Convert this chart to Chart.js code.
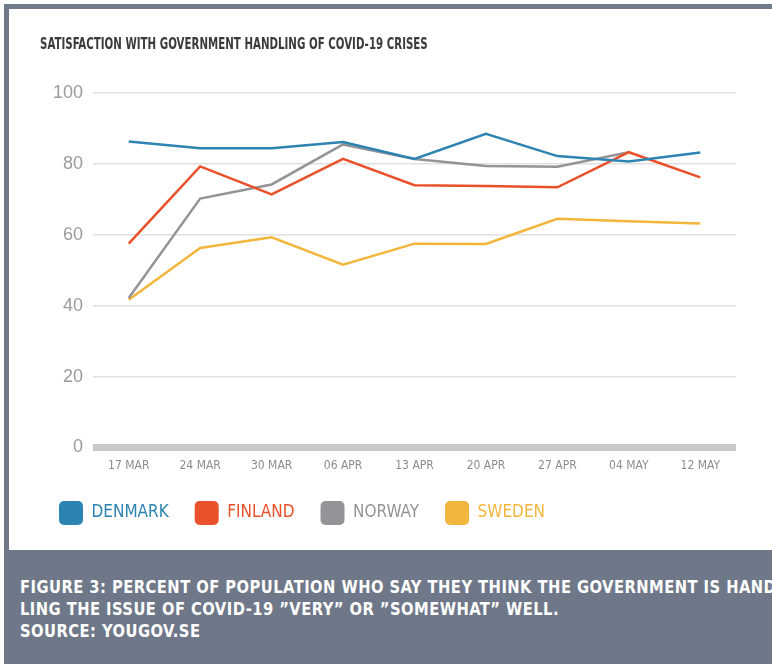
<!DOCTYPE html>
<html>
<head>
<meta charset="utf-8">
<script src="https://cdn.jsdelivr.net/npm/chart.js@4.4.1/dist/chart.umd.min.js"></script>
<style>
  html, body { margin: 0; padding: 0; background: #fff; }
  body { width: 772px; height: 667px; position: relative; overflow: hidden; }
  .frame-top { position: absolute; left: 4px; top: 4px; right: 0; height: 5px; background: #6f798a; }
  .frame-left { position: absolute; left: 4px; top: 4px; width: 5px; height: 546px; background: #6f798a; }
  #chartBox { position: absolute; left: 0; top: 0; width: 772px; height: 550px; }
  .title { position: absolute; left: 40px; top: 35px; font: bold 15px 'DejaVu Sans Condensed', sans-serif; color: #3b3b3b; white-space: nowrap; transform: scaleX(0.76); transform-origin: 0 0; }
  .caption { position: absolute; left: 4px; top: 550px; right: 0; height: 114px; background: #6f7889; overflow: hidden; }
  .caption p { margin: 0; position: absolute; left: 16px; top: 26px; font: bold 18px 'DejaVu Sans Condensed', sans-serif; line-height: 22px; letter-spacing: 0.5px; color: #fff; white-space: nowrap; transform: scaleX(0.91); transform-origin: 0 0; }
</style>
</head>
<body>
<div id="chartBox"><canvas id="satisfactionChart"></canvas></div>
<div class="frame-top"></div>
<div class="frame-left"></div>
<div class="title">SATISFACTION WITH GOVERNMENT HANDLING OF COVID-19 CRISES</div>
<div class="caption"><p>FIGURE 3: PERCENT OF POPULATION WHO SAY THEY THINK THE GOVERNMENT IS HAND<br>LING THE ISSUE OF COVID-19 ”VERY” OR ”SOMEWHAT” WELL.<br>SOURCE: YOUGOV.SE</p></div>
<script>
// data
const weeks = ['17 MAR','24 MAR','30 MAR','06 APR','13 APR','20 APR','27 APR','04 MAY','12 MAY'];
const denmark = [86.3, 84.4, 84.4, 86.2, 81.4, 88.5, 82.2, 80.7, 83.2];
const finland = [57.5, 79.3, 71.4, 81.4, 74.0, 73.8, 73.4, 83.3, 76.2];
const norway  = [42.2, 70.2, 74.2, 85.5, 81.4, 79.4, 79.2, 83.3, null];
const sweden  = [41.7, 56.3, 59.3, 51.6, 57.5, 57.4, 64.5, 63.8, 63.2];
const yTicks  = [0, 20, 40, 60, 80, 100];

const countries = ['DENMARK','FINLAND','NORWAY','SWEDEN'];
const colors = ['#2d83b1','#e8512a','#949498','#f2b63c'];
const series = [denmark, finland, norway, sweden];

const narrow = "'DejaVu Sans Condensed', sans-serif";

const ctx = document.getElementById('satisfactionChart').getContext('2d');
new Chart(ctx, {
  type: 'line',
  data: {
    labels: weeks,
    datasets: series.map((d, i) => ({
      label: countries[i], data: d,
      borderColor: colors[i], backgroundColor: colors[i],
      borderWidth: 2.5, pointRadius: 0, tension: 0, spanGaps: false
    }))
  },
  options: {
    responsive: true, maintainAspectRatio: false, animation: false,
    layout: { padding: { left: 33, right: 36, top: 93, bottom: 15 } },
    scales: {
      x: {
        offset: true,
        afterFit: s => { s.height = 27.5; },
        grid: { display: false, drawTicks: false },
        border: { display: false },
        ticks: { padding: 11, color: '#8c8c8c', font: { family: narrow, size: 12 }, maxRotation: 0, autoSkip: false }
      },
      y: {
        min: 0, max: 100,
        afterBuildTicks: s => { s.ticks = yTicks.map(v => ({ value: v })); },
        afterFit: s => { s.width = 60; },
        border: { display: false },
        grid: {
          drawTicks: false,
          color: c => c.tick && c.tick.value === 0 ? '#c8c8c8' : '#e0e0e0',
          lineWidth: c => c.tick && c.tick.value === 0 ? 7 : 1.5
        },
        ticks: { padding: 10, color: '#9b9b9b', font: { family: "'Liberation Sans', sans-serif", size: 18 } }
      }
    },
    plugins: {
      tooltip: { enabled: false },
      legend: {
        position: 'bottom', align: 'start',
        labels: {
          boxWidth: 24, boxHeight: 24, padding: 26,
          useBorderRadius: true, borderRadius: 5,
          font: { family: narrow, size: 17 },
          generateLabels: chart => Chart.defaults.plugins.legend.labels.generateLabels(chart).map((it, i) => {
            it.fontColor = colors[i]; it.lineWidth = 0; it.strokeStyle = colors[i];
            return it;
          })
        }
      }
    }
  }
});
</script>
</body>
</html>
